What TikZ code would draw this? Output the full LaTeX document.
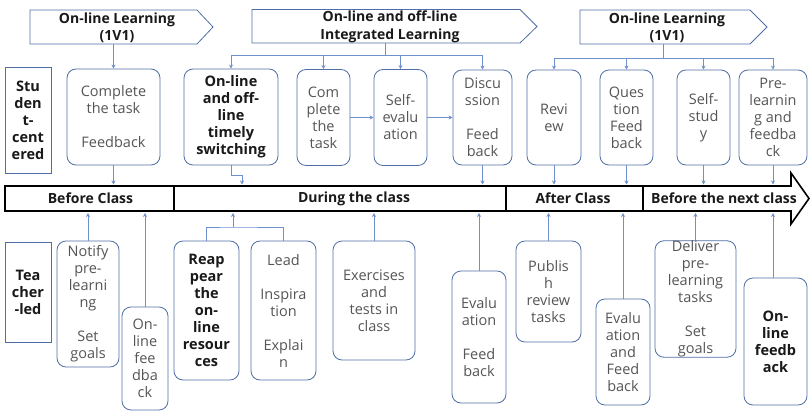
\documentclass[tikz,border=0pt]{standalone}
\usepackage{fontspec}
\setmainfont{Open Sans}
\usetikzlibrary{arrows.meta}
\definecolor{bxc}{RGB}{80,110,165}
\definecolor{lnc}{RGB}{110,145,205}
\definecolor{txt}{RGB}{85,85,85}
\definecolor{btxt}{RGB}{25,25,25}
\begin{document}
\begin{tikzpicture}[x=1pt,y=-1pt,
  bx/.style={draw=bxc, line width=0.8pt, rounded corners=9pt, align=center, inner sep=0pt, text=txt, font=\fontsize{14.5}{17}\selectfont},
  bbx/.style={bx, text=btxt, font=\fontsize{14.5}{17}\selectfont\bfseries},
  lbl/.style={draw=bxc, line width=0.8pt, align=center, inner sep=0pt, text=btxt, font=\fontsize{14.5}{17}\selectfont\bfseries},
  conn/.style={draw=lnc, line width=0.7pt, -{Stealth[length=4pt,width=4pt]}},
  lnk/.style={draw=lnc, line width=0.7pt},
  hd/.style={draw=bxc, line width=0.8pt, line join=miter},
  hdt/.style={align=center, text=btxt, font=\fontsize{14}{17.5}\selectfont\bfseries, inner sep=0pt},
  barl/.style={draw=black, line width=1.6pt, line join=miter},
  divl/.style={draw=black, line width=1.2pt},
  bart/.style={text=btxt, font=\fontsize{14}{17}\selectfont\bfseries, inner sep=0pt}
]
\useasboundingbox (0,0) rectangle (811,412);

% ---------- header arrows ----------
\draw[hd] (30,10) -- (197,10) -- (213,27) -- (197,44) -- (30,44) -- cycle;
\node[hdt] (h1) at (117,28) {On-line Learning\\(1V1)};
\draw[hd] (252,9.5) -- (520,9.5) -- (537,26.5) -- (520,43) -- (252,43) -- cycle;
\node[hdt] (h2) at (390,27) {On-line and off-line\\Integrated Learning};
\draw[hd] (580,10) -- (750,10) -- (767,27) -- (750,44) -- (580,44) -- cycle;
\node[hdt] (h3) at (667,28) {On-line Learning\\(1V1)};
\coordinate (a1b) at (113.5,44);
\coordinate (a2b) at (385,43);
\coordinate (a2j) at (385,55);
\coordinate (a3b) at (663,44);
\coordinate (a3j) at (663,58);

% ---------- timeline bar ----------
\draw[barl] (5,186) -- (791,186) -- (791,173) -- (809,198.5) -- (791,224) -- (791,211) -- (5,211) -- cycle;
\draw[divl] (174,186) -- (174,211);
\draw[divl] (506,186) -- (506,211);
\draw[divl] (643,186) -- (643,211);
\node[bart] (bl1) at (90.5,198.5) {Before Class};
\node[bart] (bl2) at (354,198.5) {During the class};
\node[bart] (bl3) at (573,198.5) {After Class};
\node[bart] (bl4) at (724,198.5) {Before the next class};
\coordinate (bt) at (0,184.5);
\coordinate (bb) at (0,213);

% ---------- top row ----------
\node[lbl, minimum width=46pt, minimum height=106pt] (sc) at (28,120) {Stu\\den\\t-\\cent\\ered};
\node[bx, minimum width=93pt, minimum height=96pt] (ct1) at (113.5,117) {Complete\\the task\\[17pt]Feedback};
\node[bbx, minimum width=94pt, minimum height=96pt] (sw) at (231,117) {On-line\\and off-\\line\\timely\\switching};
\node[bx, minimum width=53pt, minimum height=96pt] (ct2) at (323.5,117.5) {Com\\plete\\the\\task};
\node[bx, minimum width=53pt, minimum height=96pt] (se) at (400.5,117.5) {Self-\\evalu\\ation};
\node[bx, minimum width=59pt, minimum height=95pt] (dis) at (482.5,117.5) {Discu\\ssion\\[17pt]Feed\\back};
\node[bx, minimum width=54pt, minimum height=95pt] (rev) at (554,117.5) {Revi\\ew};
\node[bx, minimum width=53pt, minimum height=95pt] (qf) at (626.5,117.5) {Ques\\tion\\Feed\\back};
\node[bx, minimum width=53pt, minimum height=95pt] (ss) at (703.5,117.5) {Self-\\stud\\y};
\node[bx, minimum width=68pt, minimum height=95pt] (pl) at (773,117.5) {Pre-\\learnin\\g and\\feedba\\ck};

% header connectors
\draw[conn] (a1b) -- (ct1.north);
\draw[lnk] (a2b) -- (a2j);
\draw[conn] (a2j) -| (sw.north);
\draw[conn] (a2j) -| (ct2.north);
\draw[conn] (a2j) -| (se.north);
\draw[conn] (a2j) -| (dis.north);
\draw[lnk] (a3b) -- (a3j);
\draw[conn] (a3j) -| (rev.north);
\draw[conn] (a3j) -| (qf.north);
\draw[conn] (a3j) -| (ss.north);
\draw[conn] (a3j) -| (pl.north);

% in-row connectors
\draw[conn] (ct2.east) -- (se.west);
\draw[conn] (se.east) -- (dis.west);

% top row to bar
\coordinate (swj) at (242,175);
\draw[conn] (ct1.south) -- (ct1.south |- bt);
\draw[conn] (sw.south) |- (swj) -- (swj |- bt);
\draw[conn] (dis.south) -- (dis.south |- bt);
\draw[conn] (rev.south) -- (rev.south |- bt);
\draw[conn] (qf.south) -- (qf.south |- bt);
\draw[conn] (ss.south) -- (ss.south |- bt);
\draw[conn] (pl.south) -- (pl.south |- bt);

% ---------- bottom row ----------
\node[lbl, minimum width=46pt, minimum height=100pt] (tl) at (28,292) {Tea\\cher\\-led};
\node[bx, minimum width=62pt, minimum height=126pt] (np) at (88,304) {Notify\\pre-\\learni\\ng\\[17pt]Set\\goals};
\node[bx, minimum width=46pt, minimum height=103pt] (of1) at (145,358.5) {On-\\line\\fee\\dba\\ck};
\node[bbx, minimum width=65pt, minimum height=139pt] (rp) at (206.5,310.5) {Reap\\pear\\the\\on-\\line\\resour\\ces};
\node[bx, minimum width=65pt, minimum height=139pt] (li) at (283.5,310.5) {Lead\\[17pt]Inspira\\tion\\[17pt]Explai\\n};
\node[bx, minimum width=82pt, minimum height=119pt] (ex) at (374,300.5) {Exercises\\and\\tests in\\class};
\node[bx, minimum width=54pt, minimum height=132pt] (ef1) at (479,337) {Evalu\\ation\\[17pt]Feed\\back};
\node[bx, minimum width=65pt, minimum height=101pt] (pb) at (548.5,291.5) {Publis\\h\\review\\tasks};
\node[bx, minimum width=54pt, minimum height=106pt] (ef2) at (623,352) {Evalu\\ation\\and\\Feed\\back};
\node[bx, minimum width=81pt, minimum height=116pt] (dl) at (695.5,299) {Deliver\\pre-\\learning\\tasks\\[17pt]Set\\goals};
\node[bbx, minimum width=63pt, minimum height=127pt] (of2) at (775.5,341.5) {On-\\line\\feedb\\ack};

% bottom row to bar
\coordinate (rj) at (233,227);
\draw[conn] (np.north) -- (np.north |- bb);
\draw[conn] (of1.north) -- (of1.north |- bb);
\draw[lnk] (rp.north) |- (rj) -| (li.north);
\draw[conn] (rj) -- (rj |- bb);
\draw[conn] (ex.north) -- (ex.north |- bb);
\draw[conn] (ef1.north) -- (ef1.north |- bb);
\draw[conn] (pb.north) -- (pb.north |- bb);
\draw[conn] (ef2.north) -- (ef2.north |- bb);
\draw[conn] (dl.north) -- (dl.north |- bb);
\draw[conn] ([xshift=-2.5pt]of2.north) -- ([xshift=-2.5pt]of2.north |- bb);
\end{tikzpicture}
\end{document}
